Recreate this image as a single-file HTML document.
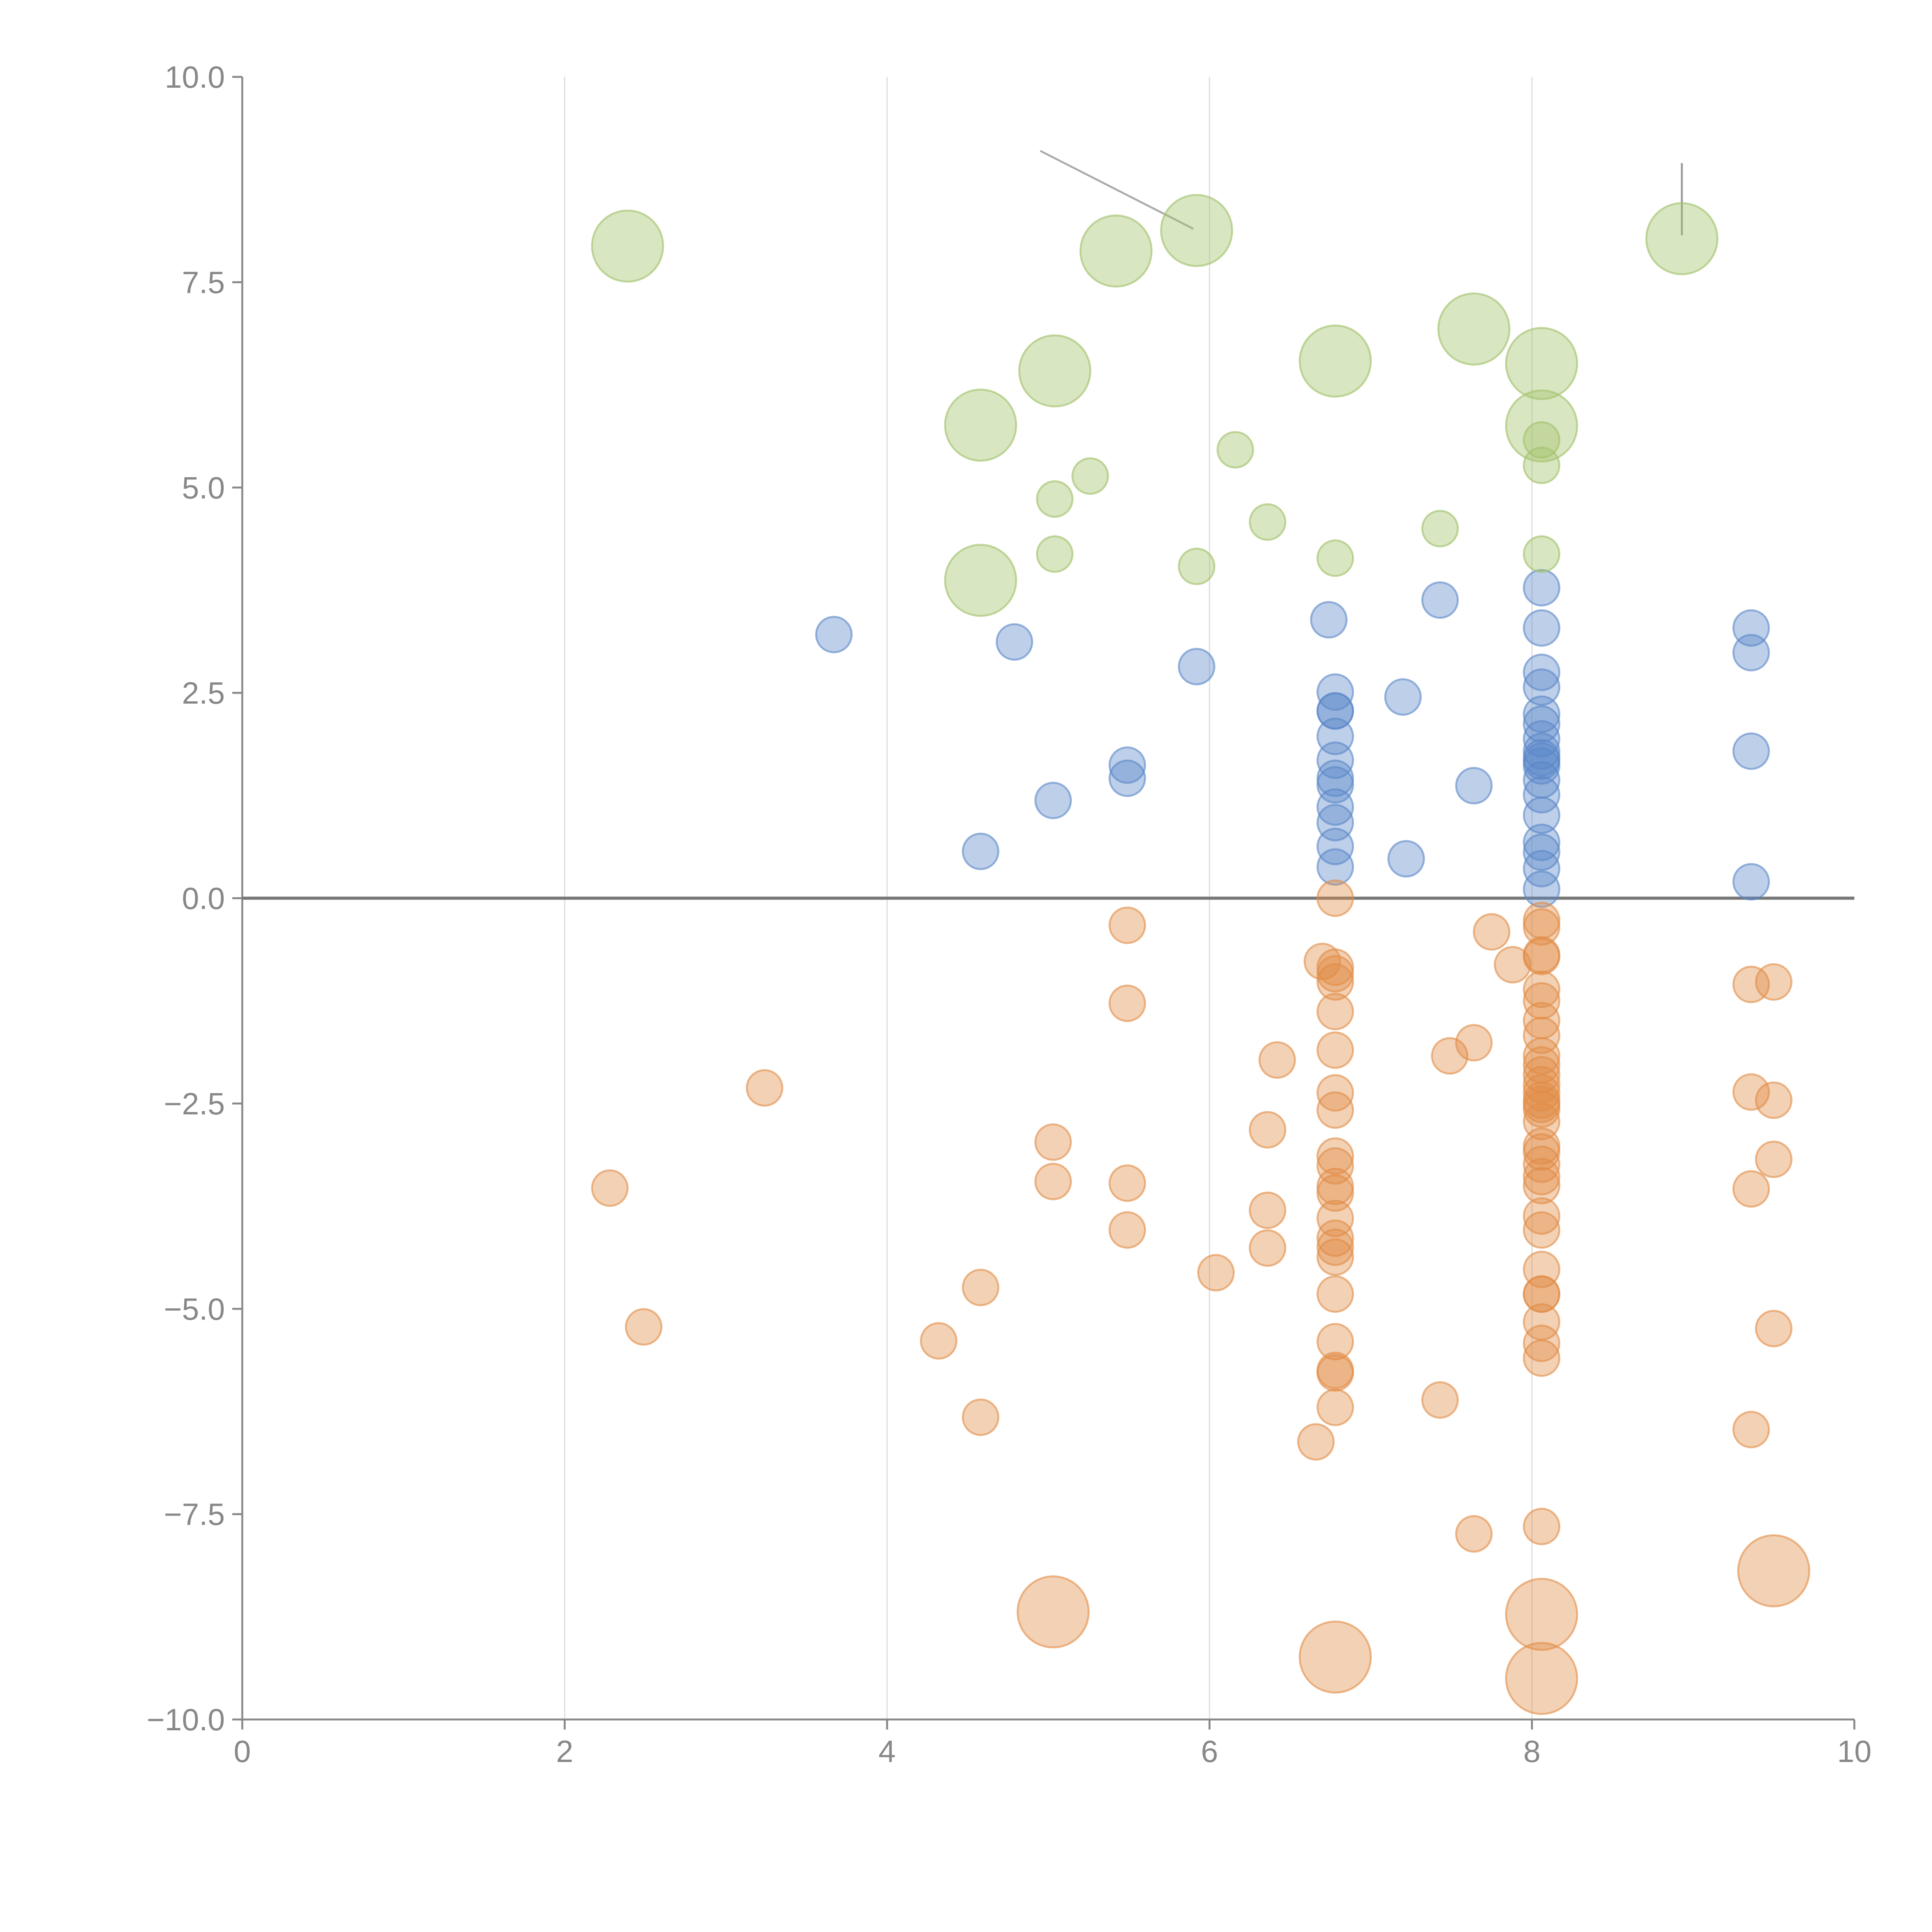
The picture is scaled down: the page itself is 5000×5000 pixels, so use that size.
<!DOCTYPE html>
<html><head><meta charset="utf-8"><style>
html,body{margin:0;padding:0;background:#fff;}
svg{display:block;font-family:"Liberation Sans",Arial,sans-serif;}
</style></head><body>
<svg id="chart" width="5000" height="5000" viewBox="0 0 5000 5000">
<g id="grid"></g>
<g id="axes"></g>
<g id="marks"></g>
</svg>
<script>
const xTicks=[0,2,4,6,8,10];
const xTickLabels=["0","2","4","6","8","10"];
const yTicks=[-10,-7.5,-5,-2.5,0,2.5,5,7.5,10];
const yTickLabels=["\u221210.0","\u22127.5","\u22125.0","\u22122.5","0.0","2.5","5.0","7.5","10.0"];
const greenX=[2.39,5.42,5.92,5.04,4.58,6.78,7.64,8.06,8.06,8.93,4.58,6.16,5.26,5.04,5.04,5.92,6.36,6.78,7.43,8.06,8.06,8.06];
const greenY=[7.94,7.88,8.13,6.42,5.76,6.54,6.93,6.51,5.75,8.03,3.87,5.46,5.14,4.86,4.19,4.04,4.58,4.14,4.50,5.27,4.19,5.58];
const greenS=[2,2,2,2,2,2,2,2,2,2,2,1,1,1,1,1,1,1,1,1,1,1];
const blueX=[3.67,4.79,5.92,5.49,5.49,5.03,4.58,6.74,7.43,7.20,7.64,7.22,
6.78,6.78,6.78,6.78,6.78,6.78,6.78,6.78,6.78,6.78,6.78,
8.06,8.06,8.06,8.06,8.06,8.06,8.06,8.06,8.06,8.06,8.06,8.06,8.06,8.06,8.06,8.06,8.06,8.06,
9.36,9.36,9.36,9.36];
const blueY=[3.21,3.12,2.82,1.62,1.46,1.19,0.57,3.39,3.63,2.45,1.37,0.48,
2.51,2.28,2.28,1.97,1.68,1.46,1.38,1.11,0.92,0.63,0.38,
3.78,3.29,2.75,2.57,2.24,2.12,1.94,1.79,1.71,1.67,1.61,1.44,1.26,1.01,0.68,0.56,0.36,0.11,
3.29,2.99,1.79,0.20];
const orangeX=[5.49,5.49,3.24,2.28,2.49,5.03,5.03,5.49,5.49,4.58,4.32,4.58,6.04,6.36,6.36,6.36,6.42,6.66,6.70,
6.78,6.78,6.78,6.78,6.78,6.78,6.78,6.78,6.78,6.78,6.78,6.78,6.78,6.78,6.78,6.78,6.78,6.78,6.78,6.78,6.78,
7.43,7.49,7.64,7.75,7.88,7.64,8.06,
8.06,8.06,8.06,8.06,8.06,8.06,8.06,8.06,8.06,8.06,8.06,8.06,8.06,8.06,8.06,8.06,8.06,8.06,8.06,8.06,8.06,8.06,8.06,8.06,8.06,8.06,8.06,8.06,8.06,8.06,
9.36,9.36,9.36,9.36,9.50,9.50,9.50,9.50,
5.03,6.78,8.06,8.06,9.50];
const orangeY=[-0.33,-1.28,-2.31,-3.53,-5.22,-2.97,-3.45,-3.47,-4.04,-4.74,-5.39,-6.32,-4.56,-2.82,-3.80,-4.26,-1.97,-6.62,-0.77,
0,-0.84,-0.92,-1.02,-1.38,-1.85,-2.37,-2.58,-3.14,-3.26,-3.51,-3.59,-3.90,-4.14,-4.25,-4.37,-4.82,-5.40,-5.75,-5.78,-6.20,
-6.11,-1.92,-1.76,-0.41,-0.81,-7.74,-7.65,
-0.27,-0.35,-0.69,-0.71,-1.11,-1.25,-1.49,-1.67,-1.92,-2.03,-2.15,-2.27,-2.37,-2.46,-2.51,-2.57,-2.72,-3.02,-3.09,-3.24,-3.39,-3.50,-3.87,-4.04,-4.52,-4.82,-4.82,-5.16,-5.42,-5.60,
-1.05,-2.36,-3.54,-6.47,-1.02,-2.46,-3.18,-5.24,
-8.69,-9.24,-8.72,-9.50,-8.19];
const orangeS=orangeX.map((_,i)=>i>=orangeX.length-5?2:1);

const NS="http://www.w3.org/2000/svg";
const X0=627,X1=4799,Y0=4450,Y1=199;
function sx(v){return X0+(v-0)/(10-0)*(X1-X0);}
function sy(v){return Y0-(v-(-10))/(20)*(Y0-Y1);}
function mk(tag,attrs,parent){const e=document.createElementNS(NS,tag);for(const k in attrs)e.setAttribute(k,attrs[k]);parent.appendChild(e);return e;}
const grid=document.getElementById('grid'),axes=document.getElementById('axes'),marks=document.getElementById('marks');
xTicks.forEach((t,i)=>{
  if(t>0&&t<10){const g=mk('line',{x1:sx(t),x2:sx(t),y1:Y1,y2:Y0,stroke:'#dddddd','stroke-width':3},grid);
  
  }
  const tk=mk('line',{x1:sx(t),x2:sx(t),y1:Y0,y2:Y0+26,stroke:'#888','stroke-width':5},axes);
  
  
  const tx=mk('text',{x:sx(t),y:Y0+110,'text-anchor':'middle','font-size':80,fill:'#888'},axes);
  tx.textContent=xTickLabels[i];
  
  
});
yTicks.forEach((t,i)=>{
  const tk=mk('line',{x1:X0-26,x2:X0,y1:sy(t),y2:sy(t),stroke:'#888','stroke-width':5},axes);
  
  
  const tx=mk('text',{x:X0-45,y:sy(t)+28,'text-anchor':'end','font-size':80,fill:'#888'},axes);
  tx.textContent=yTickLabels[i];
  
  
});
const ya=mk('line',{x1:X0,x2:X0,y1:Y1,y2:Y0,stroke:'#888','stroke-width':5},axes);


const xa=mk('line',{x1:X0,x2:X1,y1:Y0,y2:Y0,stroke:'#888','stroke-width':5},axes);


const zl=mk('line',{x1:X0,x2:X1,y1:sy(0),y2:sy(0),stroke:'#777','stroke-width':8},axes);


const lead1=mk('line',{x1:sx(4.95),y1:sy(9.1),x2:sx(5.9),y2:sy(8.15),stroke:'#aaa','stroke-width':5},axes);


const lead2=mk('line',{x1:sx(8.93),y1:sy(8.95),x2:sx(8.93),y2:sy(8.07),stroke:'#999','stroke-width':5},axes);


function series(xs,ys,ss,fill,stroke,name){
  xs.forEach((x,i)=>{
    const r=(ss?ss[i]:1)===2?92:46;
    const c=mk('circle',{cx:sx(x),cy:sy(ys[i]),r:r,fill:fill,stroke:stroke,'stroke-width':5},marks);
    
    
  });
}
series(blueX,blueY,null,'rgba(90,135,200,0.4)','rgba(90,135,200,0.6)','blue-point');
series(orangeX,orangeY,orangeS,'rgba(225,140,70,0.4)','rgba(225,140,70,0.6)','orange-point');
series(greenX,greenY,greenS,'rgba(165,195,110,0.42)','rgba(165,195,110,0.65)','green-point');
</script>
</body></html>
